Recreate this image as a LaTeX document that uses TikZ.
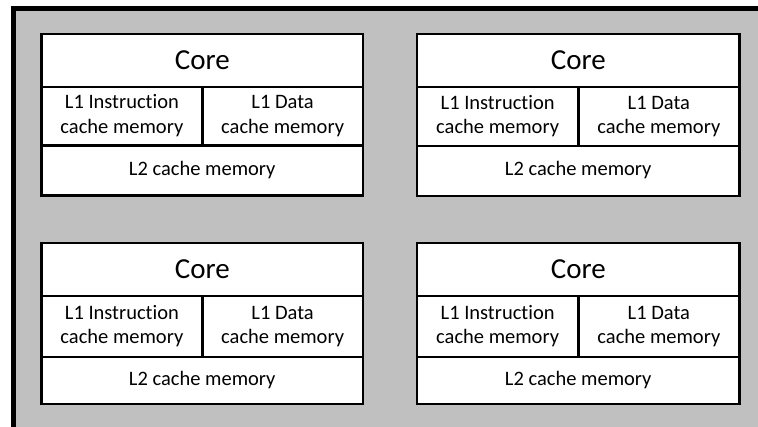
\documentclass[tikz,border=0pt]{standalone}
\usepackage{fontspec}
\setmainfont[RawFeature={-liga;-dlig}]{Carlito}
\definecolor{panelgray}{HTML}{C0C0C0}
\tikzset{
  cell/.style={draw=black, fill=white, line width=2.8pt, rectangle,
    inner sep=0pt, outer sep=0pt, anchor=north west, align=center,
    font=\fontsize{20.5}{24.5}\selectfont},
  corecell/.style={cell, font=\fontsize{29}{33}\selectfont},
  frame/.style={draw=black, line width=5pt},
}
% One processor core with its private caches:
% #1 name prefix, #2 x, #3 y, #4 width, #5 core height, #6 L1 height, #7 L2 height
\newcommand\cpublock[7]{%
  \node[corecell, minimum width=#4pt, minimum height=#5pt] (#1core) at (#2,#3) {Core};
  \node[cell, minimum width=#4pt/2, minimum height=#6pt] (#1li) at (#1core.south west)
    {\strut L1 Instruction\\\strut cache memory};
  \node[cell, minimum width=#4pt/2, minimum height=#6pt] (#1ld) at (#1li.north east)
    {\strut L1 Data\\\strut cache memory};
  \node[cell, minimum width=#4pt, minimum height=#7pt] (#1ltwo) at (#1li.south west)
    {\strut L2 cache memory};
}
\begin{document}
\begin{tikzpicture}[x=1pt,y=-1pt]
  \useasboundingbox (0,0) rectangle (758,427);
  \fill[white] (0,0) rectangle (758,427);
  % chip background
  \fill[panelgray] (13.5,8.5) rectangle (762,431);
  \draw[frame] (13.5,431) -- (13.5,8.5) -- (762,8.5);
  % four cores
  \cpublock{tl}{41.5}{34}{321.5}{53}{58.5}{50}
  \cpublock{tr}{417}{34}{322.5}{53}{59}{50}
  \cpublock{bl}{41.5}{243}{321.5}{53}{61}{47}
  \cpublock{br}{417}{243}{322.5}{53}{61}{47}
\end{tikzpicture}
\end{document}
